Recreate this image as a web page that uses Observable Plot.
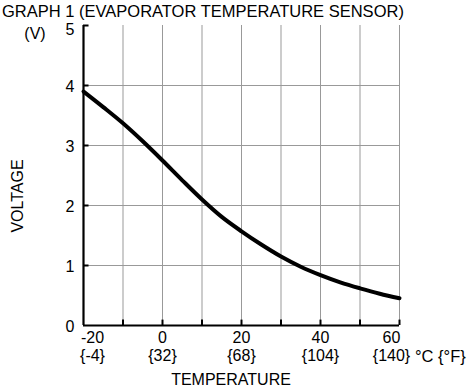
<!DOCTYPE html>
<html>
<head>
<meta charset="utf-8">
<script src="https://cdn.jsdelivr.net/npm/d3@7"></script>
<script src="https://cdn.jsdelivr.net/npm/@observablehq/plot@0.6"></script>
<style>
  html, body { margin: 0; padding: 0; background: #fff; }
  svg { display: block; }
</style>
</head>
<body>
<div id="chart"></div>
<script>
// Data
const temperatures = [-20, -15, -10, -5, 0, 5, 10, 15, 20, 25, 30, 35, 40, 45, 50, 55, 60];
const voltages = [3.90, 3.64, 3.37, 3.07, 2.75, 2.42, 2.10, 1.81, 1.57, 1.35, 1.15, 0.98, 0.84, 0.72, 0.62, 0.53, 0.455];
const celsiusTicks = [-20, 0, 20, 40, 60];
const fahrenheitLabels = ["{-4}", "{32}", "{68}", "{104}", "{140}"];
const gridTemps = [-10, 0, 10, 20, 30, 40, 50, 60];
const voltTicks = [0, 1, 2, 3, 4, 5];
const gridVolts = [1, 2, 3, 4];
const titleText = "GRAPH 1 (EVAPORATOR TEMPERATURE SENSOR)";
const yUnit = "(V)";
const yTitle = "VOLTAGE";
const xTitle = "TEMPERATURE";
const xUnit = "°C {°F}";

const curve = temperatures.map((t, i) => ({t, v: voltages[i]}));
const xLabels = celsiusTicks.map((c, i) => ({c, f: fahrenheitLabels[i]}));
const font = "Liberation Sans, Arial, Helvetica, sans-serif";
const fs = 16;

const W = 473, H = 390;
const chart = Plot.plot({
  width: W,
  height: H,
  marginLeft: 83,
  marginRight: 74,
  marginTop: 25,
  marginBottom: 65,
  style: {fontFamily: font, fontSize: "16px", color: "#000", background: "#fff"},
  x: {domain: [-20, 60], axis: null},
  y: {domain: [0, 5], axis: null},
  marks: [
    Plot.ruleX(gridTemps, {x: d => d, stroke: "#999", strokeWidth: 1}),
    Plot.ruleY(gridVolts, {y: d => d, stroke: "#999", strokeWidth: 1}),
    // inward ticks
    Plot.ruleY(voltTicks.slice(1), {y: d => d, x1: -20, x2: -18.6, stroke: "#000", strokeWidth: 2}),
    Plot.ruleX(gridTemps, {x: d => d, y1: 0, y2: 0.09, stroke: "#000", strokeWidth: 2}),
    // axes lines
    Plot.ruleX([-20], {x: d => d, y1: 0, y2: 5, stroke: "#000", strokeWidth: 2.2}),
    Plot.ruleY([0], {y: d => d, x1: -20, x2: 60, stroke: "#000", strokeWidth: 2.2}),
    // curve
    Plot.line(curve, {x: "t", y: "v", curve: "monotone-x", stroke: "#000", strokeWidth: 4}),
    // y tick labels
    Plot.text(voltTicks.slice(0, -1), {x: -20, y: d => d, text: d => String(d), textAnchor: "end", dx: -9, dy: 1, fill: "#000", fontSize: fs}),
    Plot.text(voltTicks.slice(-1), {x: -20, y: d => d, text: d => String(d), textAnchor: "end", dx: -9, dy: 4, fill: "#000", fontSize: fs}),
    // x tick labels (Celsius)
    Plot.text(xLabels.slice(1, -1), {x: "c", y: 0, text: d => String(d.c), dy: 12, fill: "#000", fontSize: fs}),
    Plot.text(xLabels.slice(0, 1), {x: "c", y: 0, text: d => String(d.c), dy: 12, dx: 9, fill: "#000", fontSize: fs}),
    Plot.text(xLabels.slice(-1), {x: "c", y: 0, text: d => String(d.c), dy: 12, dx: -8, fill: "#000", fontSize: fs}),
    // Fahrenheit labels
    Plot.text(xLabels.slice(1, -1), {x: "c", y: 0, text: "f", dy: 30, fill: "#000", fontSize: fs}),
    Plot.text(xLabels.slice(0, 1), {x: "c", y: 0, text: "f", dy: 30, dx: 9, fill: "#000", fontSize: fs}),
    Plot.text(xLabels.slice(-1), {x: "c", y: 0, text: "f", dy: 30, dx: -8, fill: "#000", fontSize: fs})
  ]
});

const svg = d3.select(chart);
const add = (x, y, txt, size, anchor) => svg.append("text")
  .attr("x", x).attr("y", y).attr("text-anchor", anchor)
  .attr("font-size", size).attr("font-family", font).attr("fill", "#000").text(txt);
add(2, 16.5, titleText, 16.5, "start");
add(35, 39, yUnit, 16, "middle");
svg.append("text").attr("transform", "translate(23,196) rotate(-90)").attr("text-anchor", "middle")
  .attr("font-size", 16).attr("font-family", font).attr("fill", "#000").text(yTitle);
add(231, 385, xTitle, 16, "middle");
add(415, 362, xUnit, 16.5, "start");

document.getElementById("chart").appendChild(chart);
</script>
</body>
</html>
